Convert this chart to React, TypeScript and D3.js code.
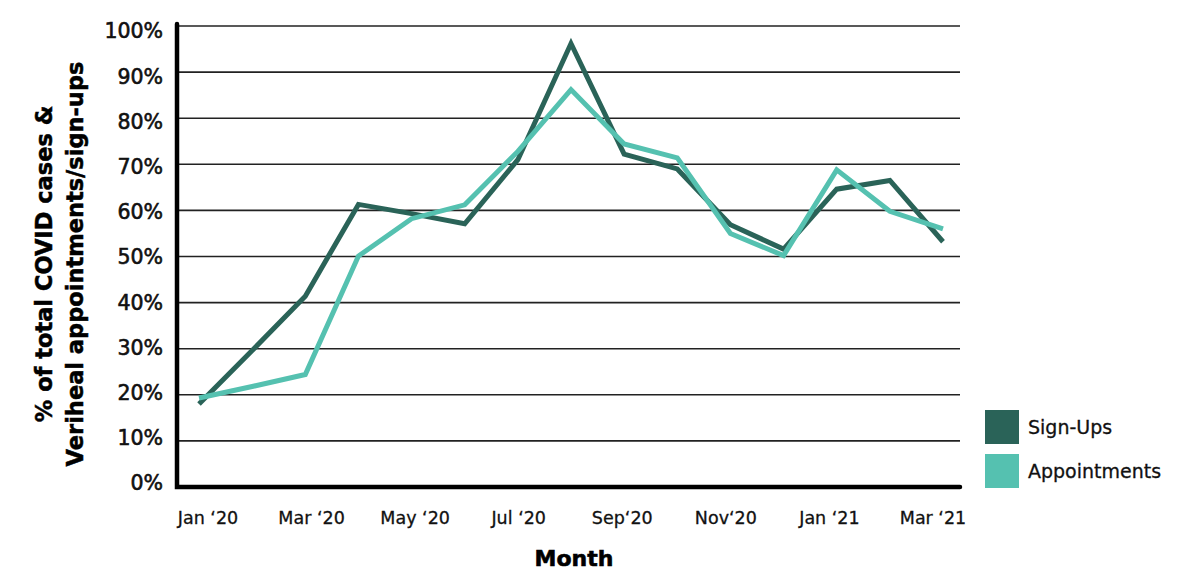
import React from "react";
import * as d3 from "d3";

const months = ["Jan '20","Feb '20","Mar '20","Apr '20","May '20","Jun '20","Jul '20","Aug '20","Sep '20","Oct '20","Nov '20","Dec '20","Jan '21","Feb '21","Mar '21"];
const signUps = [18, 29.6, 41.4, 61.3, 59.3, 57.1, 71, 96.2, 72.2, 69, 56.9, 51.6, 64.6, 66.5, 53.2];
const appointments = [19.3, 21.8, 24.4, 50.1, 58.2, 61.2, 72.8, 86.2, 74.4, 71.4, 55, 50.2, 68.8, 59.8, 56];
const tickLabelIdx = [0, 2, 4, 6, 8, 10, 12, 14];
const tickLabels = ["Jan \u201820", "Mar \u201820", "May \u201820", "Jul \u201820", "Sep\u201820", "Nov\u201820", "Jan \u201821", "Mar \u201821"];
const yTicks = [0, 10, 20, 30, 40, 50, 60, 70, 80, 90, 100];
const seriesNames = ["Sign-Ups", "Appointments"];
const colors = ["#2a6358", "#55c1b0"];

const FONT = "'DejaVu Sans', sans-serif";

export default function App() {
  const W = 1200, H = 585;
  const x = d3.scaleLinear().domain([0, 14]).range([199, 943]);
  const xLab = d3.scaleLinear().domain([0, 14]).range([208, 933]);
  const y = d3.scaleLinear().domain([0, 100]).range([487, 26]);
  const yLab = d3.scaleLinear().domain([0, 100]).range([483, 31]);
  const line = d3.line<number>().x((_, i) => x(i)).y((d) => y(d));
  const series = [signUps, appointments];
  return (
    <svg width={W} height={H} style={{ position: "absolute", left: 0, top: 0, background: "#fff" }} fontFamily={FONT}>
      {yTicks.filter((t) => t > 0).map((t) => (
        <line key={t} x1={177} x2={960} y1={y(t)} y2={y(t)} stroke="#222" strokeWidth={1.6} />
      ))}
      {yTicks.map((t) => (
        <text key={"l" + t} x={163} y={yLab(t)} dy="0.36em" textAnchor="end" fontSize={20.5} fill="#111" stroke="#111" strokeWidth={0.6}>
          {t}%
        </text>
      ))}
      {series.map((s, k) => (
        <path key={k} d={line(s) || ""} fill="none" stroke={colors[k]} strokeWidth={5} strokeLinejoin="miter" strokeLinecap="butt" />
      ))}
      <path d={`M177,24 V487 H960`} fill="none" stroke="#000" strokeWidth={4.5} strokeLinecap="round" />
      {tickLabelIdx.map((idx, i) => (
        <text key={idx} x={xLab(idx)} y={524} textAnchor="middle" fontSize={17.5} fill="#111" stroke="#111" strokeWidth={0.3}>
          {tickLabels[i]}
        </text>
      ))}
      <text x={574} y={566} textAnchor="middle" fontSize={22} fontWeight={900} fill="#000" stroke="#000" strokeWidth={0.6}>Month</text>
      <g transform="translate(52,264) rotate(-90)" fill="#000">
        <text x={0} y={0} textAnchor="middle" fontSize={22.5} fontWeight={900} stroke="#000" strokeWidth={0.5}>% of total COVID cases &amp;</text>
        <text x={0} y={31} textAnchor="middle" fontSize={22.5} fontWeight={900} stroke="#000" strokeWidth={0.5}>Veriheal appointments/sign-ups</text>
      </g>
      {seriesNames.map((n, k) => (
        <g key={n} transform={`translate(985,${410 + k * 44})`}>
          <rect width={34} height={34} fill={colors[k]} />
          <text x={43} y={17} dy="0.36em" fontSize={19} fill="#111" stroke="#111" strokeWidth={0.3}>{n}</text>
        </g>
      ))}
    </svg>
  );
}
